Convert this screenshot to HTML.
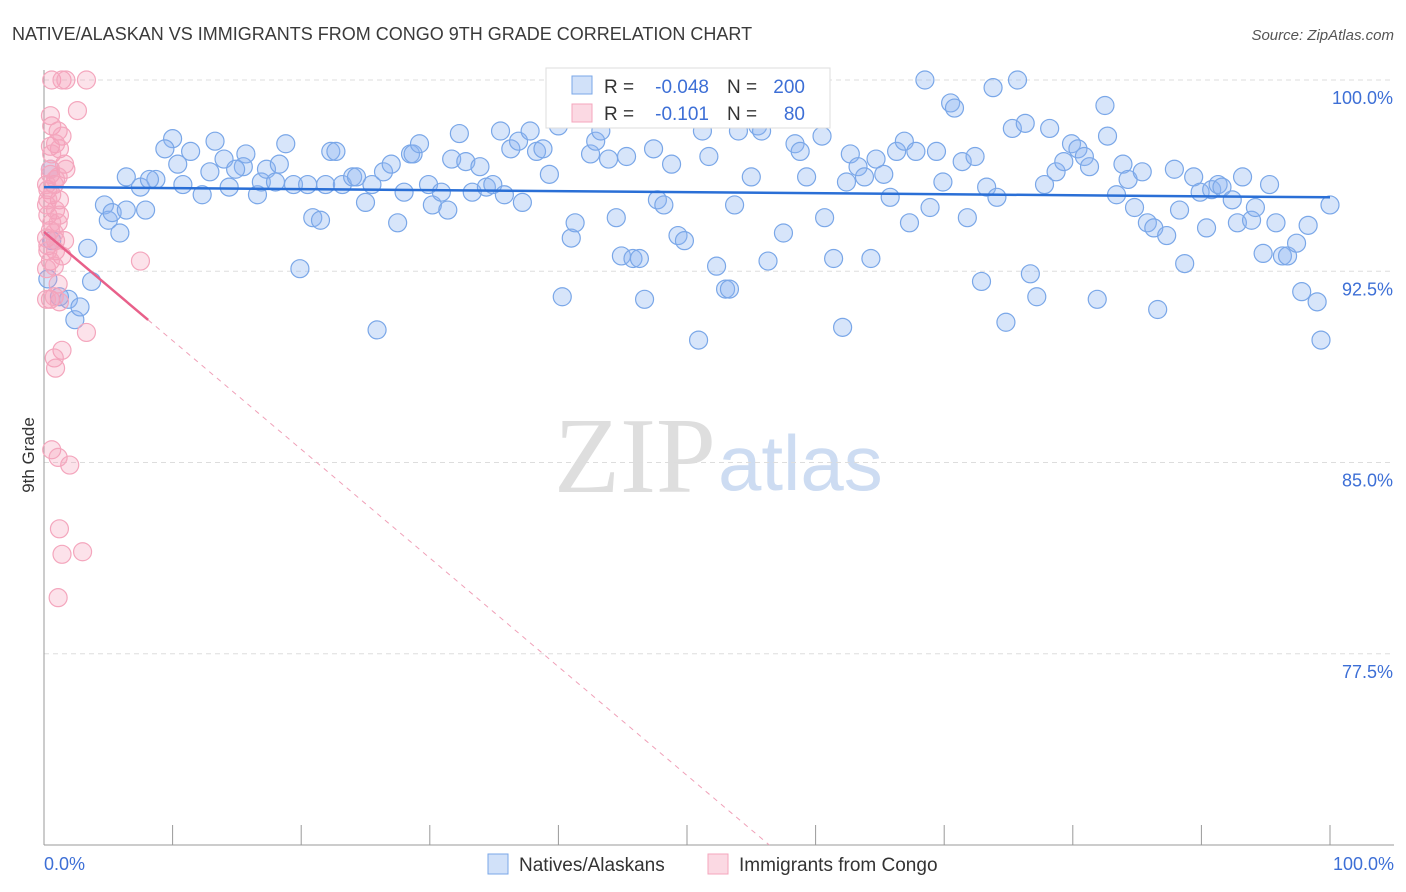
<!DOCTYPE html>
<html><head><meta charset="utf-8">
<style>
body{margin:0;background:#fff;font-family:"Liberation Sans",sans-serif;}
svg{display:block}
</style></head>
<body>
<svg id="chart" width="1406" height="892">
<text x="12" y="40" font-size="18" fill="#3a3a3a">NATIVE/ALASKAN VS IMMIGRANTS FROM CONGO 9TH GRADE CORRELATION CHART</text>
<text x="1394" y="40" font-size="15" fill="#555" font-style="italic" text-anchor="end">Source: ZipAtlas.com</text>
<text x="716" y="492" font-size="108" fill="#dedede" text-anchor="end" font-family="Liberation Serif,serif">ZIP</text>
<text x="718" y="490" font-size="78" fill="#cddcf2">atlas</text>
<g id="grid"></g>
<g id="axes"></g>
<g id="pts"></g>
<g id="trends"></g>
<text x="34" y="455" font-size="17" fill="#333" text-anchor="middle" transform="rotate(-90 34 455)">9th Grade</text>
<g>
<rect x="546" y="68" width="284" height="60" fill="#fff" stroke="#ddd"/>
<rect x="572" y="76" width="20" height="18" fill="rgba(140,180,240,0.4)" stroke="#7aa7e8"/>
<rect x="572" y="104" width="20" height="18" fill="rgba(245,160,185,0.4)" stroke="#f4a6bd"/>
<text x="604" y="93" font-size="19" fill="#333">R =</text>
<text x="709" y="93" font-size="19" fill="#3d6fd6" text-anchor="end">-0.048</text>
<text x="727" y="93" font-size="19" fill="#333">N =</text>
<text x="805" y="93" font-size="19" fill="#3d6fd6" text-anchor="end">200</text>
<text x="604" y="120" font-size="19" fill="#333">R =</text>
<text x="709" y="120" font-size="19" fill="#3d6fd6" text-anchor="end">-0.101</text>
<text x="727" y="120" font-size="19" fill="#333">N =</text>
<text x="805" y="120" font-size="19" fill="#3d6fd6" text-anchor="end">80</text>
</g>
<g>
<rect x="488" y="854" width="20" height="20" fill="rgba(140,180,240,0.4)" stroke="#7aa7e8"/>
<text x="519" y="871" font-size="19" fill="#333">Natives/Alaskans</text>
<rect x="708" y="854" width="20" height="20" fill="rgba(245,160,185,0.4)" stroke="#f4a6bd"/>
<text x="739" y="871" font-size="19" fill="#333">Immigrants from Congo</text>
</g>
</svg>
<script>
const yTicks=[100,92.5,85,77.5];
const yTickLabels=["100.0%","92.5%","85.0%","77.5%"];
const xTickLabels=["0.0%","100.0%"];
const blueX=[6.4,8.7,10.8,10.0,9.4,10.4,11.4,12.9,13.3,14.0,14.4,12.3,15.7,15.5,14.9,16.6,16.9,17.3,18.3,18.0,18.8,19.4,20.5,21.9,19.9,20.9,21.5,22.3,22.7,23.2,24.0,24.3,25.0,25.5,25.9,26.4,27.0,27.5,28.0,28.5,28.7,29.2,29.9,30.2,30.9,31.4,31.7,32.3,32.8,33.3,33.9,34.4,34.9,35.5,35.8,36.3,36.9,37.2,37.8,38.3,38.8,39.3,40.0,40.3,41.0,41.3,42.5,42.9,43.3,43.9,44.5,44.9,45.3,45.8,46.3,46.7,47.4,47.7,48.2,48.8,49.3,49.8,50.9,51.2,51.7,52.3,53.0,53.3,53.7,54.0,55.0,55.5,55.8,56.3,57.5,58.4,58.8,59.3,60.1,60.5,60.7,61.4,62.1,62.4,62.7,63.3,63.8,64.3,64.7,65.3,65.8,66.3,66.9,67.3,67.8,68.5,68.9,69.4,69.9,70.5,70.8,71.4,71.8,72.4,72.9,73.3,73.8,74.1,74.8,75.3,75.7,76.3,76.7,77.2,77.8,78.2,78.7,79.3,79.9,80.4,80.9,81.3,81.9,82.5,82.7,83.4,83.9,84.3,84.8,85.4,85.8,86.3,86.6,87.3,87.9,88.3,88.7,89.4,89.9,90.4,90.8,91.3,91.6,92.4,92.8,93.2,93.9,94.2,94.8,95.3,95.8,96.3,96.7,97.4,97.8,98.3,99.0,99.3,100.0,3.4,3.7,2.4,1.9,2.8,1.2,4.7,5.0,5.9,5.3,6.4,7.9,7.5,8.2,0.3,0.5,0.6];
const blueY=[96.2,96.1,95.9,97.7,97.3,96.7,97.2,96.4,97.6,96.9,95.8,95.5,97.1,96.6,96.5,95.5,96.0,96.5,96.7,96.0,97.5,95.9,95.9,95.9,92.6,94.6,94.5,97.2,97.2,95.9,96.2,96.2,95.2,95.9,90.2,96.4,96.7,94.4,95.6,97.1,97.1,97.5,95.9,95.1,95.6,94.9,96.9,97.9,96.8,95.6,96.6,95.8,95.9,98.0,95.5,97.3,97.6,95.2,98.0,97.2,97.3,96.3,98.2,91.5,93.8,94.4,97.1,97.6,98.0,96.9,94.6,93.1,97.0,93.0,93.0,91.4,97.3,95.3,95.1,96.7,93.9,93.7,89.8,98.0,97.0,92.7,91.8,91.8,95.1,98.0,96.2,98.2,98.0,92.9,94.0,97.5,97.2,96.2,100.0,97.8,94.6,93.0,90.3,96.0,97.1,96.6,96.2,93.0,96.9,96.3,95.4,97.2,97.6,94.4,97.2,100.0,95.0,97.2,96.0,99.1,98.9,96.8,94.6,97.0,92.1,95.8,99.7,95.4,90.5,98.1,100.0,98.3,92.4,91.5,95.9,98.1,96.4,96.8,97.5,97.3,97.0,96.6,91.4,99.0,97.8,95.5,96.7,96.1,95.0,96.4,94.4,94.2,91.0,93.9,96.5,94.9,92.8,96.2,95.6,94.2,95.7,95.9,95.8,95.3,94.4,96.2,94.5,95.0,93.2,95.9,94.4,93.1,93.1,93.6,91.7,94.3,91.3,89.8,95.1,93.4,92.1,90.6,91.4,91.1,91.5,95.1,94.5,94.0,94.8,94.9,94.9,95.8,96.1,92.2,96.5,93.7];
const pinkX=[0.6,1.4,1.7,3.3,2.6,0.6,1.1,1.4,0.5,0.9,1.2,0.6,1.6,1.7,0.5,1.1,0.8,0.3,0.6,1.2,0.2,0.9,0.3,1.1,0.5,0.2,0.9,1.6,0.3,0.9,1.4,0.5,0.2,0.8,7.5,1.1,0.5,1.2,3.3,1.4,0.8,0.9,0.6,2.0,1.1,1.2,1.4,3.0,1.1,0.5,0.9,0.3,0.6,0.2,0.5,1.2,0.3,0.8,0.2,0.8];
const pinkY=[100.0,100.0,100.0,100.0,98.8,98.2,98.0,97.8,97.4,97.5,97.3,97.1,96.7,96.5,96.3,96.2,95.9,95.7,95.5,95.3,95.1,94.9,94.7,94.4,94.1,93.8,93.7,93.7,93.5,93.3,93.1,92.9,92.6,92.7,92.9,92.0,91.4,91.3,90.1,89.4,89.1,88.7,85.5,84.9,85.2,82.4,81.4,81.5,79.7,98.6,96.1,95.3,94.4,95.9,96.5,94.7,93.3,94.0,91.4,91.5];
const blueTrendX=[0,100], blueTrendY=[95.8,95.4];
const pinkSolidX=[0,8.1], pinkSolidY=[94.04,90.59];
const pinkDashX=[8.1,56.4], pinkDashY=[90.59,70.0];

const NS="http://www.w3.org/2000/svg";
const X0=44,X1=1330,Y0=80,Y1=845,YMIN=70,YMAX=100;
const sx=v=>X0+(X1-X0)*v/100;
const sy=v=>Y0+(Y1-Y0)*(YMAX-v)/(YMAX-YMIN);
function mk(tag,attrs,parent){const e=document.createElementNS(NS,tag);for(const k in attrs)e.setAttribute(k,attrs[k]);parent.appendChild(e);return e;}
const grid=document.getElementById('grid'),axes=document.getElementById('axes'),pts=document.getElementById('pts'),tr=document.getElementById('trends');
yTicks.forEach((t,i)=>{
 const l=mk('line',{x1:X0,x2:1394,y1:sy(t),y2:sy(t),stroke:'#ddd','stroke-dasharray':'5,4'},grid);
 
 
 const tx=mk('text',{x:1393,y:sy(t)+24,'font-size':18,fill:'#3d6fd6','text-anchor':'end'},grid);
 tx.textContent=yTickLabels[i];
 
 
});
const ax=mk('line',{x1:X0,x2:X0,y1:70,y2:Y1,stroke:'#999'},axes);


const bx=mk('line',{x1:X0,x2:1394,y1:Y1,y2:Y1,stroke:'#999'},axes);


for(let i=0;i<=10;i++){
 const t=mk('line',{x1:sx(i*10),x2:sx(i*10),y1:825,y2:Y1,stroke:'#999'},axes);
 
 
}
[[0,'start',44],[100,'end',1394]].forEach((d,i)=>{
 const tx=mk('text',{x:d[2],y:870,'font-size':18,fill:'#3d6fd6','text-anchor':d[1]},axes);
 tx.textContent=xTickLabels[i];
 
 
});
blueX.forEach((v,i)=>{
 const c=mk('circle',{cx:sx(v),cy:sy(blueY[i]),r:9,fill:'rgba(140,180,240,0.35)',stroke:'#7aa7e8','stroke-width':1.2},pts);
 
 
});
pinkX.forEach((v,i)=>{
 const c=mk('circle',{cx:sx(v),cy:sy(pinkY[i]),r:9,fill:'rgba(245,160,185,0.3)',stroke:'#f4a6bd','stroke-width':1.2},pts);
 
 
});
const b=mk('line',{x1:sx(blueTrendX[0]),y1:sy(blueTrendY[0]),x2:sx(blueTrendX[1]),y2:sy(blueTrendY[1]),stroke:'#2a6fd6','stroke-width':2.5},tr);


const p=mk('line',{x1:sx(pinkSolidX[0]),y1:sy(pinkSolidY[0]),x2:sx(pinkSolidX[1]),y2:sy(pinkSolidY[1]),stroke:'#e8608a','stroke-width':2.5},tr);


const pd=mk('line',{x1:sx(pinkDashX[0]),y1:sy(pinkDashY[0]),x2:sx(pinkDashX[1]),y2:sy(pinkDashY[1]),stroke:'#f0a0b8','stroke-width':1,'stroke-dasharray':'5,5'},tr);


</script>
</body></html>
